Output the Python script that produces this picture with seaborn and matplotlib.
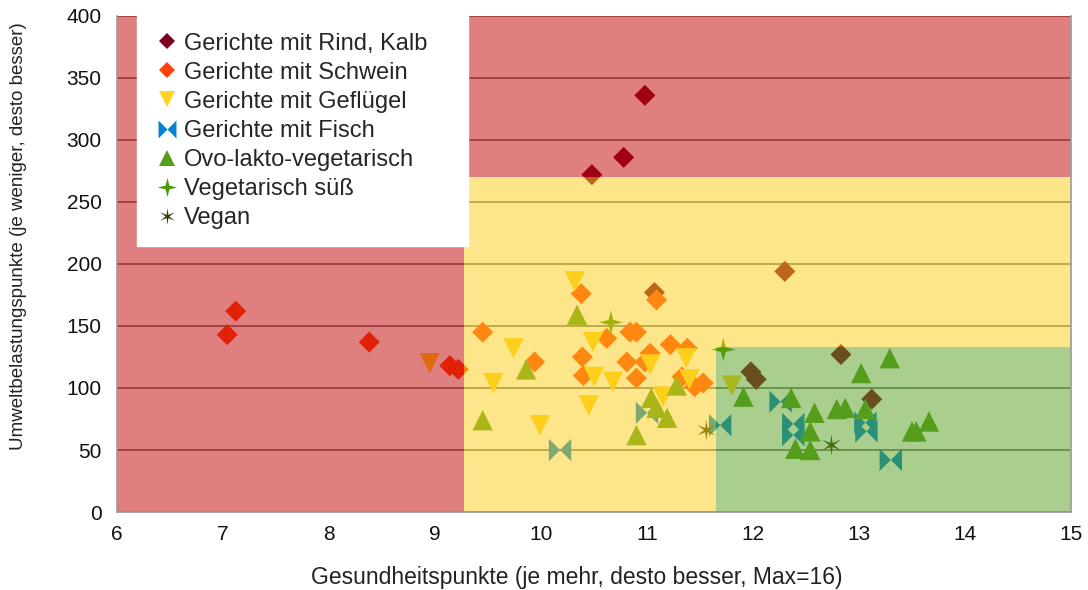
"""
plot.py
Umweltbelastung vs. Gesundheit von Gerichten (Scatter mit Ampel-Zonen).
"""

import numpy as np
import pandas as pd
import matplotlib
matplotlib.use("Agg")
import matplotlib.pyplot as plt
from matplotlib.patches import Polygon
import seaborn as sns

# ── data ────────────────────────────────────────────────────────────────────
CATEGORIES = ["Gerichte mit Rind, Kalb", "Gerichte mit Schwein", "Gerichte mit Geflügel",
              "Gerichte mit Fisch", "Ovo-lakto-vegetarisch", "Vegetarisch süß", "Vegan"]

rind_x = [10.98, 10.78, 10.48, 11.07, 12.30, 11.98, 12.03, 12.83, 13.12]
rind_y = [336, 286, 272, 177, 194, 113, 107, 127, 91]

schwein_x = [7.04, 7.12, 8.38, 9.14, 9.22, 9.45, 9.94, 10.38, 10.39, 10.40, 10.62, 10.81,
             10.84, 10.90, 10.90, 10.98, 11.03, 11.09, 11.22, 11.38, 11.33, 11.45, 11.53]
schwein_y = [143, 162, 137, 118, 115, 145, 121, 176, 125, 110, 140, 121,
             145, 145, 108, 121, 128, 171, 135, 132, 109, 101, 104]

gefl_x = [8.95, 10.32, 9.74, 9.55, 9.99, 10.49, 10.50, 10.45, 10.68, 11.15, 11.37, 11.03, 11.40, 11.80]
gefl_y = [120, 186, 132, 104, 70, 137, 109, 86, 105, 93, 124, 119, 107, 102]

fisch_x = [10.18, 11.00, 11.69, 12.26, 12.38, 12.38, 13.06, 13.07, 13.30]
fisch_y = [50, 80, 70, 89, 71, 62, 72, 65, 42]

ovo_x = [9.45, 9.86, 10.34, 10.90, 11.04, 11.09, 11.19, 11.28, 11.91, 12.36, 12.40,
         12.54, 12.54, 12.58, 12.79, 12.87, 13.02, 13.06, 13.29, 13.50, 13.54, 13.66]
ovo_y = [74, 115, 159, 62, 92, 84, 76, 102, 93, 92, 51,
         50, 65, 80, 83, 84, 112, 83, 124, 65, 65, 73]

suess_x = [10.66, 11.72]
suess_y = [153, 131]

vegan_x = [11.56, 12.74]
vegan_y = [66, 54]

# zone thresholds (health score / environmental points)
X_YELLOW, Y_YELLOW = 9.27, 270
X_GREEN, Y_GREEN = 11.65, 133
X_MIN, X_MAX, Y_MIN, Y_MAX = 6, 15, 0, 400

# ── style ───────────────────────────────────────────────────────────────────
COLORS = ["#7e0021", "#ff420e", "#ffd320", "#0084d1", "#579d1c", "#4e9a06", "#314004"]

bowtie = [(-1, 1), (0, 0), (1, 1), (1, -1), (0, 0), (-1, -1), (-1, 1)]
star4 = [(0, 1), (0.2, 0.2), (1, 0), (0.2, -0.2), (0, -1),
         (-0.2, -0.2), (-1, 0), (-0.2, 0.2), (0, 1)]
ang = np.deg2rad(np.arange(0, 360, 30) + 90)
rad = np.tile([1.0, 0.22], 6)
asterisk = list(zip(rad * np.cos(ang), rad * np.sin(ang)))
asterisk.append(asterisk[0])

MARKERS = ["D", "D", "v", bowtie, "^", star4, asterisk]
SIZES = [115, 115, 215, 260, 215, 300, 230]

sns.set_theme(style="white")
plt.rcParams["font.family"] = ["Liberation Sans", "DejaVu Sans"]

frames = []
for cat, xs, ys in zip(CATEGORIES,
                       [rind_x, schwein_x, gefl_x, fisch_x, ovo_x, suess_x, vegan_x],
                       [rind_y, schwein_y, gefl_y, fisch_y, ovo_y, suess_y, vegan_y]):
    frames.append(pd.DataFrame({"x": xs, "y": ys, "cat": cat}))
df = pd.concat(frames, ignore_index=True)

fig = plt.figure(figsize=(10.88, 5.9), dpi=100)
ax = fig.add_axes([0.1075, 0.1322, 0.8769, 0.8407])

sns.scatterplot(data=df, x="x", y="y", hue="cat", style="cat", size="cat",
                hue_order=CATEGORIES, style_order=CATEGORIES, size_order=CATEGORIES,
                palette=dict(zip(CATEGORIES, COLORS)),
                markers=dict(zip(CATEGORIES, MARKERS)),
                sizes=dict(zip(CATEGORIES, SIZES)),
                linewidth=0, edgecolor="none", ax=ax, zorder=2)

# zone overlays drawn on top of the points (tinting them)
red_zone = [(X_MIN, Y_MIN), (X_YELLOW, Y_MIN), (X_YELLOW, Y_YELLOW), (X_MAX, Y_YELLOW),
            (X_MAX, Y_MAX), (X_MIN, Y_MAX)]
yellow_zone = [(X_YELLOW, Y_MIN), (X_GREEN, Y_MIN), (X_GREEN, Y_GREEN), (X_MAX, Y_GREEN),
               (X_MAX, Y_YELLOW), (X_YELLOW, Y_YELLOW)]
green_zone = [(X_GREEN, Y_MIN), (X_MAX, Y_MIN), (X_MAX, Y_GREEN), (X_GREEN, Y_GREEN)]
for pts, col in [(red_zone, "#c30002"), (yellow_zone, "#fdcd15"), (green_zone, "#559f1d")]:
    ax.add_patch(Polygon(pts, closed=True, facecolor=col, edgecolor="none",
                         alpha=0.5, zorder=3))

ax.set_xlim(X_MIN, X_MAX)
ax.set_ylim(Y_MIN, Y_MAX)
ax.set_xticks(range(6, 16))
ax.set_yticks(range(0, 401, 50))
ax.yaxis.grid(True, color="#6f6f6f", linewidth=1.2)
ax.set_axisbelow(True)

for side in ["left", "bottom", "right"]:
    ax.spines[side].set_color("#9a9a9a")
    ax.spines[side].set_linewidth(1.2)
    ax.spines[side].set_zorder(5)
ax.spines["top"].set_visible(False)
ax.tick_params(axis="both", direction="out", length=8, width=1.2, color="#9a9a9a",
               labelcolor="#111111", pad=3)
ax.tick_params(axis="x", labelsize=15, pad=1)
ax.tick_params(axis="y", labelsize=15)

ax.set_xlabel("Gesundheitspunkte (je mehr, desto besser, Max=16)", fontsize=16.5,
              color="#222222")
ax.xaxis.set_label_coords(0.482, -0.108)
ax.set_ylabel("Umweltbelastungspunkte (je weniger, desto besser)", fontsize=13.5,
              color="#222222")
ax.yaxis.set_label_coords(-0.094, 0.556)

sns.move_legend(ax, "upper left", bbox_to_anchor=(0.021, 0.0, 0.347, 1.0), mode="expand",
                title=None, frameon=True, fancybox=False, framealpha=1, facecolor="white",
                edgecolor="white", fontsize=17, labelspacing=0.3,
                handletextpad=0.2, handlelength=1.1, borderpad=0.7,
                borderaxespad=0, markerscale=0.8)
ax.get_legend().set_zorder(6)

plt.savefig("out.png", dpi=100)
plt.close()
